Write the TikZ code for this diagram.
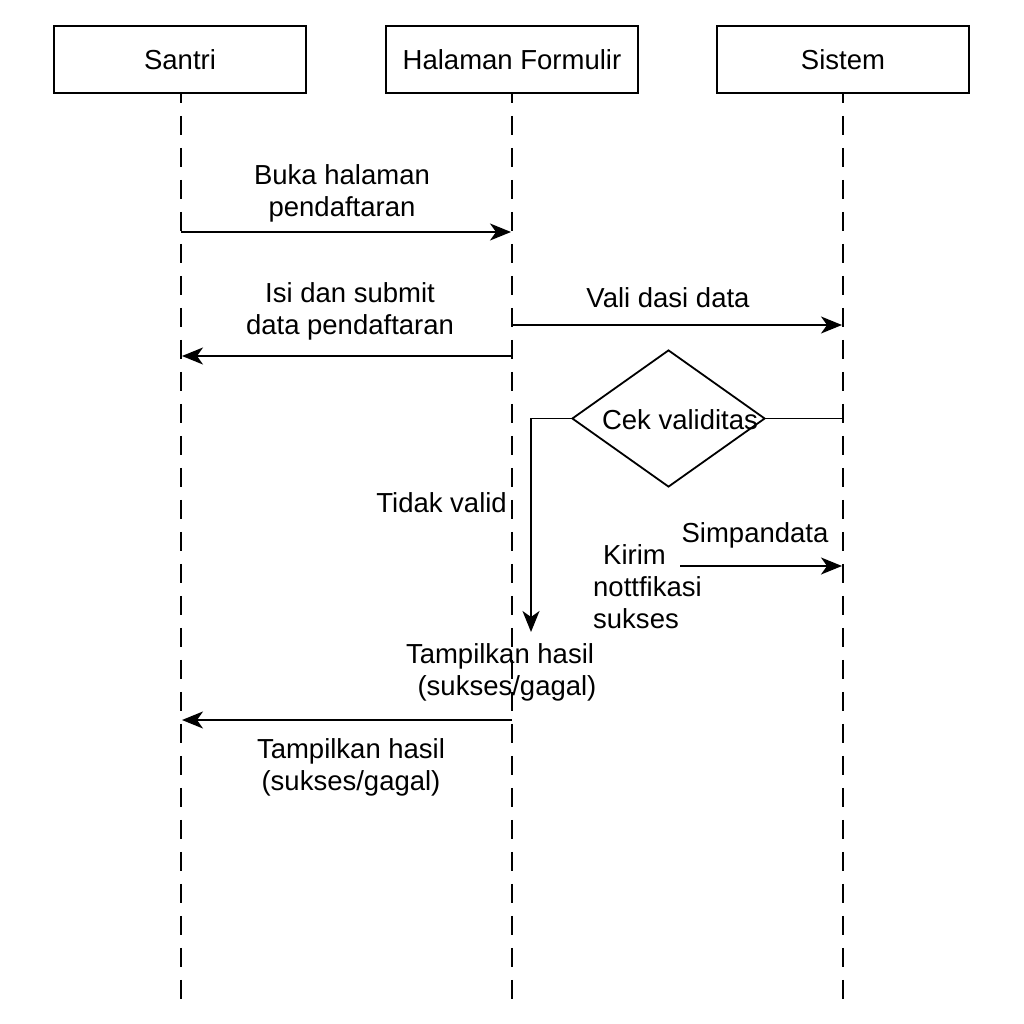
\documentclass[tikz,border=0pt]{standalone}
\usepackage{fontspec}
\setmainfont{Liberation Sans}
\usetikzlibrary{shapes.geometric,arrows.meta}
\begin{document}
\begin{tikzpicture}[x=1pt,y=-1pt,
  every node/.style={font=\fontsize{27.5}{32}\selectfont},
  actor/.style={draw,line width=1.8pt,minimum width=252pt,minimum height=67pt,inner sep=0pt},
  life/.style={line width=2pt,dash pattern=on 19pt off 13pt,dash phase=10pt},
  msg/.style={line width=1.8pt,-{Stealth[length=21pt,width=17pt,inset=6pt]}},
  plain/.style={line width=1.8pt},
  lbl/.style={align=center,inner sep=0pt},
  dec/.style={draw,diamond,line width=1.8pt,minimum width=193pt,minimum height=137pt,inner sep=0pt}]
\useasboundingbox (0,0) rectangle (1024,1024);
\fill[white] (0,0) rectangle (1024,1024);
% actors
\node[actor] (santri) at (180,59.5) {Santri};
\node[actor] (form) at (512,59.5) {Halaman Formulir};
\node[actor] (sistem) at (843,59.5) {Sistem};
% lifeline ends
\coordinate (santriEnd) at (181,1001);
\coordinate (formEnd) at (512,1001);
\coordinate (sistemEnd) at (843,1001);
\draw[life] (santri.south -| santriEnd) -- (santriEnd);
\draw[life] (form.south -| formEnd) -- (formEnd);
\draw[life] (sistem.south -| sistemEnd) -- (sistemEnd);
% message 1
\coordinate (m1a) at (181,232);
\coordinate (m1b) at (511,232);
\draw[msg] (m1a) -- (m1b);
\node[lbl] (t1) at (342,193) {Buka halaman\\pendaftaran};
% message 2
\coordinate (m2a) at (512,356);
\coordinate (m2b) at (182,356);
\draw[msg] (m2a) -- (m2b);
\node[lbl] (t2) at (350,311) {Isi dan submit\\data pendaftaran};
% message 3
\coordinate (m3a) at (512,325);
\coordinate (m3b) at (842,325);
\draw[msg] (m3a) -- (m3b);
\node[lbl] (t3) at (668,298) {Vali dasi data};
% decision
\node[dec] (cek) at (668.5,418.5) {};
\node[lbl] (cekt) at (680,420) {Cek validitas};
\coordinate (cekR) at (843,418.5);
\draw[plain] (cek.east) -- (cekR);
\coordinate (tidakEnd) at (531,632);
\draw[msg] (cek.west) -| (tidakEnd);
\node[lbl,anchor=east] (t4) at (507,503) {Tidak valid};
% simpan data
\coordinate (m5a) at (680,566);
\coordinate (m5b) at (842,566);
\draw[msg] (m5a) -- (m5b);
\node[lbl] (t5) at (755,535) {Simpandata};
\node[lbl,align=left,anchor=west] (t6) at (593,587) {\hspace*{10pt}Kirim\\nottfikasi\\sukses};
% tampilkan hasil
\node[lbl] (t7) at (500,672) {Tampilkan hasil\\\hspace*{14pt}(sukses/gagal)};
\coordinate (m7a) at (512,720);
\coordinate (m7b) at (182,720);
\draw[msg] (m7a) -- (m7b);
\node[lbl] (t8) at (351,767) {Tampilkan hasil\\(sukses/gagal)};
\end{tikzpicture}
\end{document}
